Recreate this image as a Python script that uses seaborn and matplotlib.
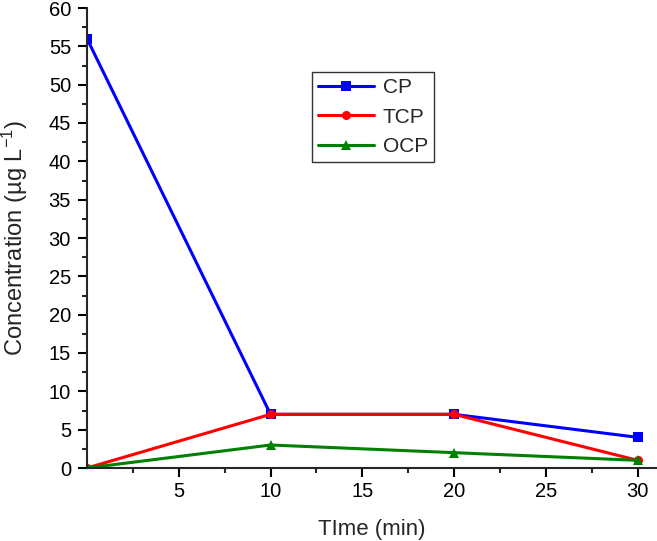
import matplotlib
matplotlib.use("Agg")
import matplotlib.pyplot as plt
import seaborn as sns
import pandas as pd
from matplotlib.ticker import MultipleLocator, FixedLocator

time = [0, 10, 20, 30]
cp = [56, 7, 7, 4]
tcp = [0, 7, 7, 1]
ocp = [0, 3, 2, 1]
series = ["CP", "TCP", "OCP"]
colors = ["#0000ff", "#ff0000", "#008000"]
markers = ["s", "o", "^"]
xticks = [5, 10, 15, 20, 25, 30]

sns.set_style("ticks")
plt.rcParams['font.family'] = ['Liberation Sans', 'DejaVu Sans']
plt.rcParams['mathtext.fontset'] = 'custom'
plt.rcParams['mathtext.rm'] = 'Liberation Sans'
plt.rcParams['mathtext.it'] = 'Liberation Sans'

df = pd.DataFrame({"Time": time * 3,
                   "Conc": cp + tcp + ocp,
                   "Series": [s for s in series for _ in time]})

fig = plt.figure(figsize=(6.57, 5.41), dpi=100)
ax = fig.add_axes([87 / 657, (541 - 468) / 541, 569 / 657, 460 / 541])
sns.lineplot(data=df, x="Time", y="Conc", hue="Series", style="Series",
             palette=dict(zip(series, colors)), markers=dict(zip(series, markers)),
             dashes=False, linewidth=2.2, markersize=6.5, markeredgewidth=0, ax=ax)
ax.set_xlim(0, 31)
ax.set_ylim(0, 60)
ax.xaxis.set_major_locator(FixedLocator(xticks))
ax.xaxis.set_minor_locator(FixedLocator([2.5, 7.5, 12.5, 17.5, 22.5, 27.5]))
ax.yaxis.set_major_locator(MultipleLocator(5))
ax.yaxis.set_minor_locator(MultipleLocator(2.5))
ax.tick_params(which='major', direction='out', length=6.5, width=1.5, labelsize=14.5, colors='black')
ax.tick_params(which='minor', direction='out', length=3.6, width=1.5)
ax.tick_params(axis='y', which='major', pad=5)
for s in ['top', 'right']:
    ax.spines[s].set_visible(False)
for s in ['left', 'bottom']:
    ax.spines[s].set_linewidth(1.5)
ax.set_xlabel("TIme (min)", fontsize=16, labelpad=13)
ax.set_ylabel("Concentration (µg L$^{-1}$)", fontsize=17)
ax.yaxis.set_label_coords(-0.1, 0.5)
leg = ax.legend(loc='upper left', bbox_to_anchor=(0.395, 0.861), fontsize=15,
                frameon=True, fancybox=False, edgecolor='black', handlelength=2.7,
                handletextpad=0.4, borderpad=0.3, labelspacing=0.5, borderaxespad=0)
leg.get_frame().set_linewidth(1.0)
fig.savefig("out.png", dpi=100)
